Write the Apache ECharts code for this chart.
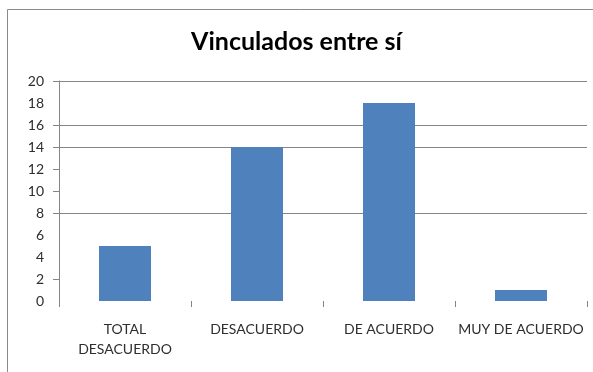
<!DOCTYPE html>
<html>
<head>
<meta charset="utf-8">
<script src="https://cdn.jsdelivr.net/npm/echarts@6/dist/echarts.min.js"></script>
<style>
  html, body { margin: 0; padding: 0; background: #fff; }
  #chart { width: 593px; height: 372px; }
</style>
</head>
<body>
<div id="chart"></div>
<script>
// Survey answers: how many respondents chose each level of agreement
const categories = ['TOTAL DESACUERDO', 'DESACUERDO', 'DE ACUERDO', 'MUY DE ACUERDO'];
const counts = [5, 14, 18, 1];
// Value axis scale and the levels that carry a horizontal rule
const yMin = 0;
const yMax = 20;
const yStep = 2;
const ruledLevels = [2, 8, 10, 12, 14, 16, 20];

const gridGray = '#858585';
const textColor = '#2e2e2e';
const font = 'Lato, "Noto Sans", sans-serif';

// One colour per split line, transparent where no rule is drawn
const splitColors = [];
for (let v = yMin; v <= yMax; v += yStep) {
  splitColors.push(ruledLevels.includes(v) ? gridGray : 'rgba(0,0,0,0)');
}

const chart = echarts.init(document.getElementById('chart'), null, { renderer: 'canvas' });
chart.setOption({
  animation: false,
  backgroundColor: '#fff',
  title: {
    text: 'Vinculados entre sí',
    left: 'center',
    top: 24,
    textStyle: { fontFamily: font, fontWeight: 'bold', fontSize: 25, color: '#000' }
  },
  graphic: [{
    type: 'rect',
    shape: { x: 7.5, y: 9.5, width: 700, height: 500 },
    style: { fill: 'none', stroke: '#8a8a8a', lineWidth: 1 },
    silent: true
  }],
  grid: { left: 59, right: 6, top: 81, bottom: 71, containLabel: false },
  xAxis: {
    type: 'category',
    data: categories,
    axisLine: { show: false },
    axisTick: { show: true, length: 6, alignWithLabel: false, lineStyle: { color: gridGray } },
    axisLabel: {
      margin: 18,
      interval: 0,
      fontFamily: font,
      fontSize: 14,
      lineHeight: 20,
      color: textColor,
      formatter: v => v === 'TOTAL DESACUERDO' ? 'TOTAL\nDESACUERDO' : v
    }
  },
  yAxis: {
    type: 'value',
    min: yMin,
    max: yMax,
    interval: yStep,
    axisLine: { show: true, lineStyle: { color: gridGray } },
    axisTick: { show: true, length: 6, customValues: ruledLevels, lineStyle: { color: gridGray } },
    splitLine: { show: true, lineStyle: { color: splitColors, width: 1 } },
    axisLabel: { margin: 15, fontFamily: font, fontSize: 14, color: textColor }
  },
  series: [{
    type: 'bar',
    data: counts,
    barWidth: 52,
    itemStyle: { color: '#4f81bd' }
  }]
});
</script>
</body>
</html>
